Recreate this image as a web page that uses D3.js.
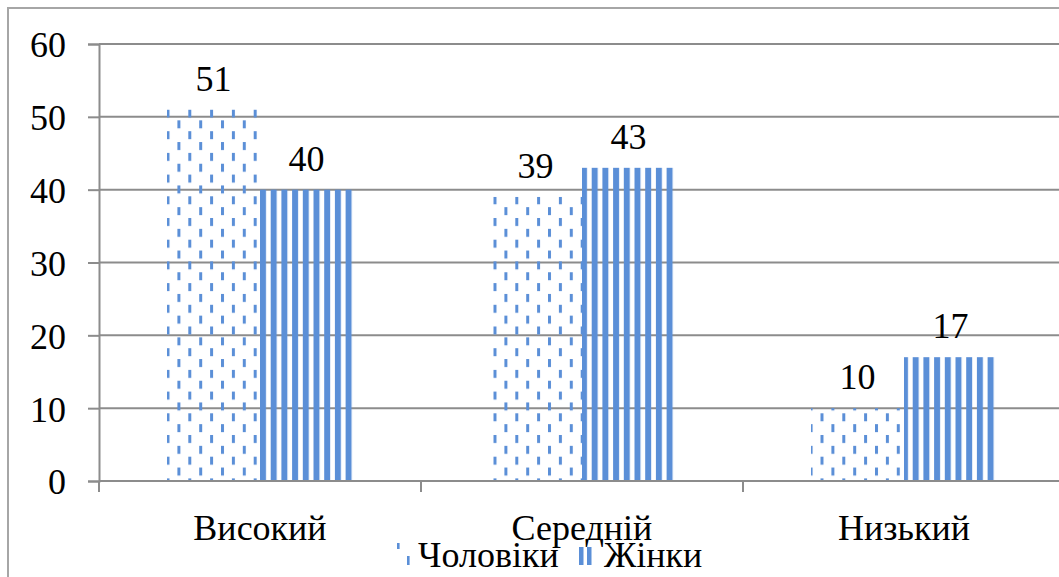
<!DOCTYPE html>
<html><head><meta charset="utf-8">
<script src="https://cdn.jsdelivr.net/npm/d3@7"></script>
<style>
body{margin:0;background:#fff;font-family:'Times New Roman',serif}
svg{display:block;font-family:'Times New Roman',serif}
</style>
</head><body>
<svg id="c" width="1059" height="577"></svg>
<script>
const categories = ["Високий", "Середній", "Низький"];
const seriesNames = ["Чоловіки", "Жінки"];
const men = [51, 39, 10];
const women = [40, 43, 17];
const yTicks = [0, 10, 20, 30, 40, 50, 60];

const svg = d3.select("#c");
const blue = "#5b8fd7";
const FONT = "Times New Roman, serif";
function txt(sel){ return sel.attr("font-family",FONT).attr("font-size",36).attr("fill","#000"); }

const defs = svg.append("defs");
const pm = defs.append("pattern").attr("id","pm").attr("patternUnits","userSpaceOnUse")
  .attr("x",166.5).attr("y",0).attr("width",21.8).attr("height",21.7);
pm.append("rect").attr("x",0).attr("y",1).attr("width",3).attr("height",8).attr("fill",blue);
pm.append("rect").attr("x",10.9).attr("y",11.85).attr("width",3).attr("height",8).attr("fill",blue);
const pw = defs.append("pattern").attr("id","pw").attr("patternUnits","userSpaceOnUse")
  .attr("x",260).attr("y",0).attr("width",10.7).attr("height",10);
pw.append("rect").attr("x",0).attr("y",0).attr("width",6).attr("height",10).attr("fill",blue);

// outer border
svg.append("rect").attr("x",8).attr("y",8).attr("width",1100).attr("height",700)
  .attr("fill","none").attr("stroke","#a6a6a6").attr("stroke-width",2);

const x0 = 99, bandW = 322;
const x = d3.scaleBand().domain(categories).range([x0, x0 + bandW*categories.length]).paddingInner(0).paddingOuter(0);
const xs = d3.scaleBand().domain(seriesNames).range([68, bandW-68]);
const y = d3.scaleLinear().domain([0,60]).range([481,44]);

// gridlines
svg.append("g").selectAll("line").data(yTicks.filter(d=>d>0)).join("line")
  .attr("x1",x0).attr("x2",1059).attr("y1",d=>y(d)).attr("y2",d=>y(d))
  .attr("stroke","#8c8c8c").attr("stroke-width",2);

// y axis
const ya = svg.append("g").attr("transform",`translate(${x0},0)`)
  .call(d3.axisLeft(y).tickValues(yTicks).tickSize(11).tickPadding(22));
ya.attr("font-family",FONT).attr("font-size",36);
ya.select(".domain").attr("stroke","#8c8c8c").attr("stroke-width",2);
ya.selectAll(".tick line").attr("stroke","#8c8c8c").attr("stroke-width",2);
txt(ya.selectAll("text")).attr("dy","0.36em");

// bars
const data = categories.map((c,i)=>({c, vals:[{s:seriesNames[0],v:men[i],f:"url(#pm)"},{s:seriesNames[1],v:women[i],f:"url(#pw)"}]}));
const g = svg.append("g");
data.forEach(d=>{
  d.vals.forEach(v=>{
    g.append("rect").attr("x",x(d.c)+xs(v.s)).attr("width",xs.bandwidth())
      .attr("y",y(v.v)).attr("height",y(0)-y(v.v)).attr("fill",v.f);
    txt(g.append("text").attr("x",x(d.c)+xs(v.s)+xs.bandwidth()/2).attr("y",y(v.v)-19)
      .attr("text-anchor","middle").text(v.v));
  });
});

// x axis
const xa = svg.append("g").attr("transform","translate(0,481)");
xa.append("line").attr("x1",x0).attr("x2",1059).attr("y1",0).attr("y2",0).attr("stroke","#8c8c8c").attr("stroke-width",2);
xa.selectAll("line.t").data([0,1,2,3]).join("line").attr("class","t")
  .attr("x1",d=>x0+d*bandW).attr("x2",d=>x0+d*bandW).attr("y1",0).attr("y2",11)
  .attr("stroke","#8c8c8c").attr("stroke-width",2);
txt(xa.selectAll("text").data(categories).join("text")
  .attr("x",d=>x(d)+bandW/2).attr("y",59).attr("text-anchor","middle").text(d=>d));

// legend
const lg = svg.append("g");
lg.append("rect").attr("x",397).attr("y",543).attr("width",2.6).attr("height",6).attr("fill",blue);
lg.append("rect").attr("x",407).attr("y",556).attr("width",2.6).attr("height",9).attr("fill",blue);
lg.append("rect").attr("x",579).attr("y",547).attr("width",4.5).attr("height",18).attr("fill",blue);
lg.append("rect").attr("x",587).attr("y",547).attr("width",4.5).attr("height",18).attr("fill",blue);
txt(lg.append("text").attr("x",418).attr("y",567).text(seriesNames[0]));
txt(lg.append("text").attr("x",604).attr("y",567).text(seriesNames[1]));
</script>
</body></html>
